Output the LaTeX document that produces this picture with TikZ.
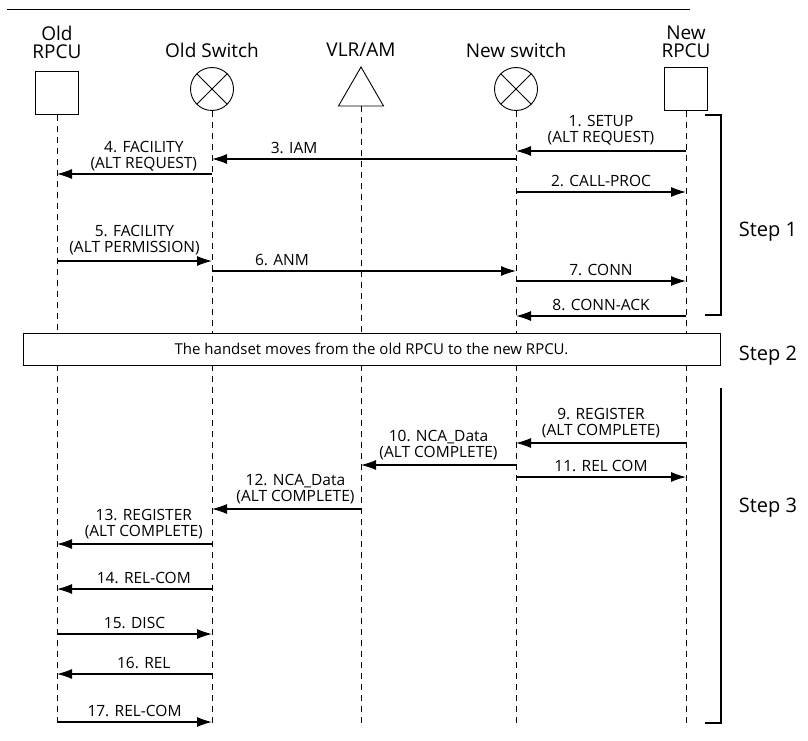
\documentclass[tikz,border=0pt]{standalone}
\usepackage{fontspec}
\setmainfont{Open Sans}
\usetikzlibrary{arrows.meta, positioning, shapes.geometric}

\begin{document}
\begin{tikzpicture}[x=1pt, y=-1pt,
  hdr/.style={font=\fontsize{19}{18}\selectfont, align=center, inner sep=0pt},
  unit/.style={draw, line width=0.9pt, minimum size=43pt, inner sep=0pt},
  switch/.style={draw, circle, line width=0.9pt, minimum size=43pt, inner sep=0pt,
    path picture={\draw[line width=0.9pt]
      (path picture bounding box.south west) -- (path picture bounding box.north east)
      (path picture bounding box.north west) -- (path picture bounding box.south east);}},
  life/.style={line width=1pt, dash pattern=on 6pt off 5pt},
  msg/.style={-{Latex[length=15pt, width=10pt]}, line width=1.1pt},
  lbl/.style={above=4pt, font=\fontsize{15.5}{16}\selectfont, align=center, inner sep=1pt},
  steplbl/.style={font=\fontsize{20}{20}\selectfont}]
\useasboundingbox (0,0) rectangle (808,741);

% ============= TOP: the five entities =============
\draw[line width=0.8pt] (7,9) -- (690,9);

\node[hdr] (orpcu-name) at (57,42) {Old\\RPCU};
\node[hdr] (osw-name) at (212,50) {Old Switch};
\node[hdr] (vlr-name) at (361,50) {VLR/AM};
\node[hdr] (nsw-name) at (516,50) {New switch};
\node[hdr] (nrpcu-name) at (686,42) {New\\RPCU};

\node[unit] (orpcu) at (57,93) {};
\node[switch] (osw) at (212,89) {};
\node[draw, regular polygon, regular polygon sides=3, minimum size=52pt,
  inner sep=0pt, line width=0.9pt] (vlr) at (361,93) {};
\node[switch] (nsw) at (516,89) {};
\node[unit] (nrpcu) at (686,89) {};

% --- handset move (step 2) ---
\node[draw, line width=0.9pt, minimum width=697pt, minimum height=32pt,
  font=\fontsize{15}{15}\selectfont] (move) at (371.5,349)
  {The handset moves from the old RPCU to the new RPCU.};

% --- lifelines, cut by the box ---
\foreach \e in {orpcu, osw, vlr, nsw, nrpcu} {
  \draw[life] (\e.south) -- (\e |- move.north);
  \draw[life] (\e |- move.south) -- (\e |- 0,725);
}

% ============= STEP 1 =============
\draw[msg] (nrpcu |- 0,151) -- node[lbl] {1. SETUP\\(ALT REQUEST)} (nsw |- 0,151);
\draw[msg] (nsw |- 0,159) -- node[lbl, pos=0.73] {3. IAM} (osw |- 0,159);
\draw[msg] (osw |- 0,174) -- node[lbl, pos=0.44, above=1pt] {4. FACILITY\\(ALT REQUEST)} (orpcu |- 0,174);
\draw[msg] (nsw |- 0,192) -- node[lbl] {2. CALL-PROC} (nrpcu |- 0,192);
\draw[msg] (orpcu |- 0,261) -- node[lbl] {5. FACILITY\\(ALT PERMISSION)} (osw |- 0,261);
\draw[msg] (osw |- 0,271) -- node[lbl, pos=0.23] {6. ANM} (nsw |- 0,271);
\draw[msg] (nsw |- 0,281) -- node[lbl] {7. CONN} (nrpcu |- 0,281);
\draw[msg] (nrpcu |- 0,316) -- node[lbl] {8. CONN-ACK} (nsw |- 0,316);

% ============= STEP 3 =============
\draw[msg] (nrpcu |- 0,443) -- node[lbl] {9. REGISTER\\(ALT COMPLETE)} (nsw |- 0,443);
\draw[msg] (nsw |- 0,465) -- node[lbl] {10. NCA\_Data\\(ALT COMPLETE)} (vlr |- 0,465);
\draw[msg] (nsw |- 0,477) -- node[lbl] {11. REL COM} (nrpcu |- 0,477);
\draw[msg] (vlr |- 0,509) -- node[lbl, pos=0.44] {12. NCA\_Data\\(ALT COMPLETE)} (osw |- 0,509);
\draw[msg] (osw |- 0,544) -- node[lbl, pos=0.44] {13. REGISTER\\(ALT COMPLETE)} (orpcu |- 0,544);
\draw[msg] (osw |- 0,589) -- node[lbl, pos=0.44] {14. REL-COM} (orpcu |- 0,589);
\draw[msg] (orpcu |- 0,634) -- node[lbl] {15. DISC} (osw |- 0,634);
\draw[msg] (osw |- 0,674) -- node[lbl, pos=0.44] {16. REL} (orpcu |- 0,674);
\draw[msg] (orpcu |- 0,722) -- node[lbl] {17. REL-COM} (osw |- 0,722);

% ============= step brackets =============
\draw[line width=1.1pt] (705,115) -- (721,115) -- (721,315) -- (705,315);
\draw[line width=1.1pt] (721,388) -- (721,723) -- (705,723);
\node[steplbl] (step1) at (768,232) {Step 1};
\node[steplbl] (step2) at (768,356) {Step 2};
\node[steplbl] (step3) at (768,508) {Step 3};
\end{tikzpicture}
\end{document}
